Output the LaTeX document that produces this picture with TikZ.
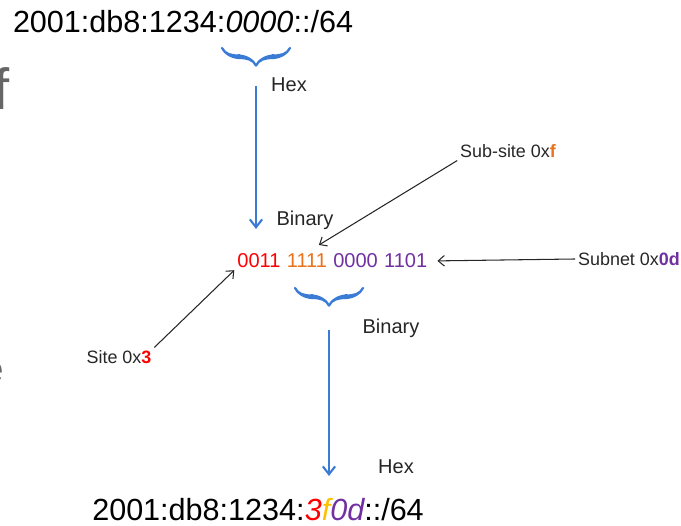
\documentclass[tikz,border=0pt]{standalone}
\usepackage{fontspec}
\setmainfont{Liberation Sans}
\usetikzlibrary{positioning,arrows.meta,decorations.pathreplacing,calligraphy}

\definecolor{convblue}{HTML}{3A7BD5}
\definecolor{sitered}{HTML}{FF0000}
\definecolor{suborange}{HTML}{E8731C}
\definecolor{subyellow}{HTML}{FFC000}
\definecolor{netpurple}{HTML}{7030A0}
\definecolor{slidegray}{HTML}{666666}

\begin{document}
\begin{tikzpicture}[x=0.02cm,y=-0.02cm,
    addr/.style={font=\fontsize{17.4}{20}\selectfont, inner sep=0pt},
    lbl/.style={font=\fontsize{11.4}{13}\selectfont, text=black!85},
    tag/.style={font=\fontsize{10.2}{12}\selectfont, text=black!85, inner sep=1.5pt},
    bits/.style={font=\fontsize{11.4}{13}\selectfont, inner xsep=1.6pt, inner ysep=1pt},
    conv/.style={convblue, line width=1.2pt, -{Straight Barb[length=4.5pt,width=7pt]}},
    ptr/.style={black!85, line width=0.6pt, -{Straight Barb[length=3.5pt,width=6pt]}},
    grp/.style={convblue, pen colour=convblue, line width=2.6pt, decorate,
      decoration={calligraphic brace, amplitude=10pt}},
  ]
  \useasboundingbox (0,0) rectangle (681,526);

  % bits of slide text cut off at the left
  \node[anchor=base east, text=slidegray, font=\fontsize{33}{36}\selectfont] (frag1) at (16,110) {of};
  \node[anchor=base east, text=slidegray, font=\fontsize{22}{24}\selectfont] (frag2) at (10,383) {e};

  % prefix before
  \node[addr] (pfxin) at (183,22) {2001:db8:1234:\textit{0000}::/64};
  \draw[grp] (290,48) -- (222,48);
  \node[lbl] (hex1) at (289,85) {Hex};
  \coordinate (c1s) at (256,86);
  \coordinate (c1e) at (256,229);
  \draw[conv] (c1s) -- (c1e);
  \node[lbl] (bin1) at (305,220) {Binary};

  % the 16 bits, one node per nibble
  \node[bits, text=sitered] (b1) at (259,261) {0011};
  \node[bits, text=suborange, right=0pt of b1] (b2) {1111};
  \node[bits, text=netpurple, right=0pt of b2] (b3) {0000};
  \node[bits, text=netpurple, right=0pt of b3] (b4) {1101};

  \draw[grp] (363,288) -- (295,288);
  \node[lbl] (bin2) at (391,328) {Binary};
  \coordinate (c2s) at (329,330);
  \coordinate (c2e) at (329,476);
  \draw[conv] (c2s) -- (c2e);
  \node[lbl] (hex2) at (396,467) {Hex};

  % prefix after
  \node[addr] (pfxout) at (258,510) {2001:db8:1234:\textit{\textcolor{sitered}{3}\textcolor{subyellow}{f}\textcolor{netpurple}{0d}}::/64};

  % field labels
  \node[tag] (subsite) at (508,151) {Sub-site 0x\textbf{\textcolor{suborange}{f}}};
  \node[tag] (subnet) at (629,259) {Subnet 0x\textbf{\textcolor{netpurple}{0d}}};
  \node[tag] (site) at (119,357) {Site 0x\textbf{\textcolor{sitered}{3}}};

  \draw[ptr] (subsite.south west) -- ([shift={(12,-7)}]b2.north);
  \draw[ptr, shorten >=4pt] (subnet.west) -- (b4.east);
  \draw[ptr] (site.north east) -- (b1.south west);
\end{tikzpicture}
\end{document}
